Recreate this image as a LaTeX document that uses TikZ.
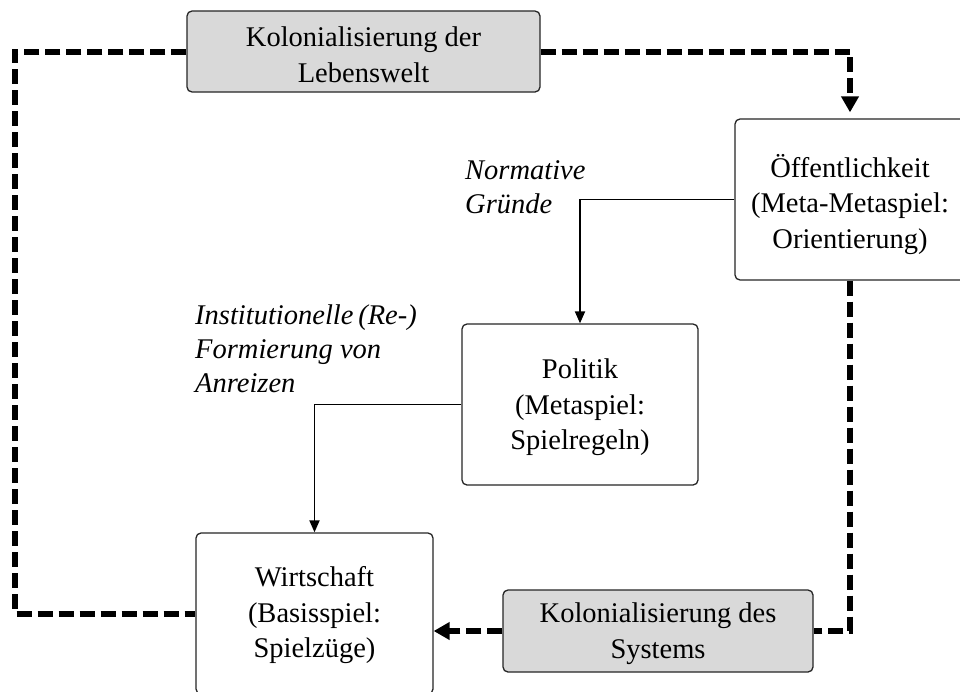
\documentclass[tikz,border=0pt]{standalone}
\usepackage{fontspec}
\setmainfont{Liberation Serif}
\usetikzlibrary{arrows.meta}
\newcommand{\toplift}[1]{\rule{0pt}{#1}}
\begin{document}
\begin{tikzpicture}[x=1pt,y=-1pt,
  box/.style={draw=black!85, line width=1.3pt, rounded corners=5pt, fill=white, align=center, inner sep=0pt, font=\fontsize{28.5pt}{35.5pt}\selectfont},
  graybox/.style={box, fill=gray!30},
  lbl/.style={align=left, inner sep=0pt, anchor=west, font=\fontsize{28.5pt}{34pt}\selectfont\itshape},
  dashconn/.style={line width=6pt, dash pattern=on 15pt off 6pt},
  solidconn/.style={line width=1.9pt},
  bigtip/.style={-{Triangle[length=16pt,width=17pt]}},
  smalltip/.style={-{Triangle[length=12pt,width=10pt]}}
]
\path[use as bounding box, clip] (0,0) rectangle (960,691);
\fill[white] (0,0) rectangle (960,691);

% boxes
\node[graybox, minimum width=353pt, minimum height=81pt] (kl) at (363.5,51.5) {\toplift{26pt}Kolonialisierung der\\Lebenswelt};
\node[box, minimum width=230pt, minimum height=161pt] (oe) at (850,199.5) {\toplift{33pt}Öffentlichkeit\\(Meta-Metaspiel:\\Orientierung)};
\node[box, minimum width=236pt, minimum height=161pt] (po) at (580,404.5) {\toplift{26pt}Politik\\(Metaspiel:\\Spielregeln)};
\node[box, minimum width=237pt, minimum height=161pt] (wi) at (314.5,613.5) {\toplift{24pt}Wirtschaft\\(Basisspiel:\\Spielzüge)};
\node[graybox, minimum width=310pt, minimum height=82pt] (ks) at (658,631) {\toplift{25pt}Kolonialisierung des\\Systems};

% labels
\node[lbl] (ng) at (465,187) {Normative\\Gründe};
\node[lbl] (ia) at (195,349) {Institutionelle\,(Re-)\\Formierung von\\Anreizen};

% dashed connectors
\coordinate (lc) at (15,0);
\draw[dashconn] (kl.west) -- (kl.west -| lc) -- (lc |- wi.west) -- (wi.west);
\draw[dashconn, bigtip, shorten >=6pt] (kl.east) -| (oe.north);
\draw[dashconn] (oe.south) |- (ks.east);
\draw[dashconn, bigtip] (ks.west) -- (ks.west -| wi.east);

% solid connectors
\draw[solidconn, smalltip] (oe.west) -| (po.north);
\draw[solidconn, smalltip] (po.west) -| (wi.north);
\end{tikzpicture}
\end{document}
